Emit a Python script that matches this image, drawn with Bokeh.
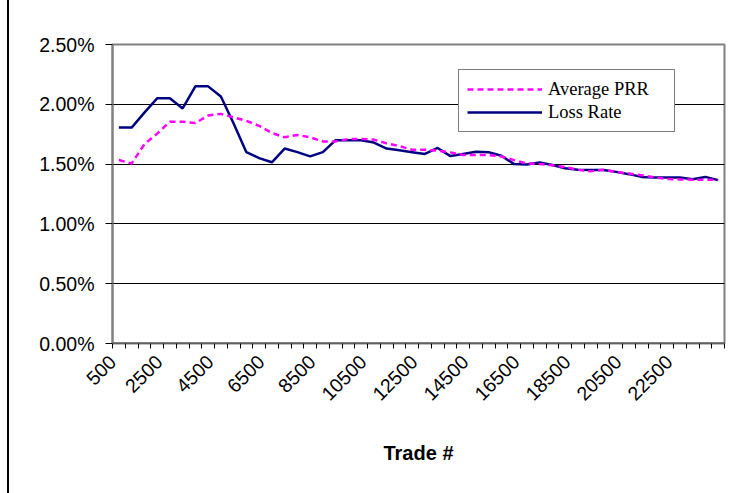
from bokeh.plotting import figure
from bokeh.models import (Range1d, FixedTicker, PrintfTickFormatter, Legend, LegendItem,
                          Span, ColumnDataSource, InlineStyleSheet)
from bokeh.embed import file_html
from bokeh.resources import INLINE
import math

trades = [500, 1000, 1500, 2000, 2500, 3000, 3500, 4000, 4500, 5000, 5500, 6000,
          6500, 7000, 7500, 8000, 8500, 9000, 9500, 10000, 10500, 11000, 11500, 12000,
          12500, 13000, 13500, 14000, 14500, 15000, 15500, 16000, 16500, 17000, 17500, 18000,
          18500, 19000, 19500, 20000, 20500, 21000, 21500, 22000, 22500, 23000, 23500, 24000]

loss_rate = [1.805, 1.805, 1.93, 2.05, 2.05, 1.965, 2.15, 2.15, 2.065, 1.84, 1.60, 1.55,
             1.515, 1.63, 1.60, 1.565, 1.60, 1.70, 1.70, 1.70, 1.68, 1.63, 1.615, 1.60,
             1.585, 1.635, 1.567, 1.585, 1.603, 1.60, 1.57, 1.50, 1.497, 1.513, 1.492, 1.465,
             1.452, 1.45, 1.45, 1.435, 1.416, 1.393, 1.388, 1.388, 1.388, 1.374, 1.393, 1.366]

avg_prr = [1.534, 1.505, 1.666, 1.755, 1.854, 1.854, 1.843, 1.906, 1.92, 1.89, 1.862, 1.82,
           1.76, 1.724, 1.744, 1.724, 1.69, 1.69, 1.71, 1.71, 1.705, 1.673, 1.651, 1.62,
           1.62, 1.612, 1.598, 1.576, 1.576, 1.576, 1.564, 1.533, 1.505, 1.50, 1.49, 1.475,
           1.452, 1.44, 1.452, 1.435, 1.421, 1.407, 1.388, 1.375, 1.372, 1.37, 1.37, 1.37]

tick_labels = ["500", "2500", "4500", "6500", "8500", "10500", "12500",
               "14500", "16500", "18500", "20500", "22500"]
y_ticks = [0.0, 0.5, 1.0, 1.5, 2.0, 2.5]

# category centres on a numeric scale (one unit per category)
xpos = [i + 0.5 for i in range(len(trades))]
src = ColumnDataSource(dict(x=xpos, loss=loss_rate, prr=avg_prr))

p = figure(width=734, height=493, output_backend="svg", toolbar_location=None,
           x_range=Range1d(0, len(trades)), y_range=Range1d(0, 2.5),
           min_border_left=112, min_border_right=10, min_border_top=44, min_border_bottom=150)
p.background_fill_color = "white"
p.border_fill_color = "white"
p.outline_line_color = "#808080"
p.outline_line_width = 2

# y axis
p.yaxis.ticker = FixedTicker(ticks=y_ticks)
p.yaxis.formatter = PrintfTickFormatter(format="%.2f%%")
p.yaxis.major_tick_out = 7
p.yaxis.major_tick_in = 0
p.yaxis.minor_tick_out = 0
p.yaxis.minor_tick_in = 0
p.yaxis.axis_line_color = "#808080"
p.yaxis.axis_line_width = 2
p.yaxis.major_tick_line_color = "#000000"
p.yaxis.major_label_text_font = "Liberation Sans"
p.yaxis.major_label_text_font_size = "19.5px"
p.yaxis.major_label_text_color = "black"
p.yaxis.major_label_standoff = 11

# x axis: rotated labels end at the category centre (Excel style),
# tick marks at the category boundaries
label_shift = 0.85
label_pos = [max(0.0, trades.index(int(t)) + 0.5 - label_shift) for t in tick_labels]
p.xaxis.ticker = FixedTicker(ticks=label_pos, minor_ticks=list(range(len(trades) + 1)))
p.xaxis.major_label_overrides = {pos: lab for pos, lab in zip(label_pos, tick_labels)}
p.xaxis.major_tick_out = 0
p.xaxis.major_tick_in = 0
p.xaxis.minor_tick_out = 5
p.xaxis.minor_tick_in = 0
p.xaxis.minor_tick_line_color = "#000000"
p.xaxis.axis_line_color = None
p.xaxis.major_label_orientation = math.pi / 4
p.xaxis.major_label_text_font = "Liberation Sans"
p.xaxis.major_label_text_font_size = "19.5px"
p.xaxis.major_label_text_color = "black"
p.xaxis.major_label_standoff = 10
p.xaxis.axis_label = "Trade #"
p.xaxis.axis_label_text_font = "Liberation Sans"
p.xaxis.axis_label_text_font_style = "bold"
p.xaxis.axis_label_text_font_size = "20px"
p.xaxis.axis_label_text_color = "black"
p.xaxis.axis_label_standoff = 32

# grid
p.xgrid.grid_line_color = None
p.ygrid.ticker = FixedTicker(ticks=y_ticks)
p.ygrid.grid_line_color = "#000000"
p.ygrid.grid_line_width = 1

r_loss = p.line("x", "loss", source=src, line_color="#000080", line_width=2.5)
r_prr = p.line("x", "prr", source=src, line_color="#FF00FF", line_width=2.5, line_dash="6 4")

# category axis line along the bottom of the plot area
p.add_layout(Span(location=0, dimension="width", line_color="#404040", line_width=2))

legend = Legend(items=[LegendItem(label="Average PRR", renderers=[r_prr]),
                       LegendItem(label="Loss Rate", renderers=[r_loss])],
                location=(346, 211))
legend.label_text_font = "Liberation Serif"
legend.label_text_font_size = "18.5px"
legend.label_text_color = "black"
legend.glyph_width = 75
legend.glyph_height = 22
legend.label_height = 22
legend.label_width = 118
legend.label_standoff = 6
legend.padding = 8
legend.spacing = 1
legend.margin = 0
legend.border_line_color = "black"
legend.border_line_width = 1
legend.background_fill_color = "white"
legend.background_fill_alpha = 1.0
p.add_layout(legend, "center")

# outer chart-area border on the left (Excel chart area frame)
p.stylesheets = [InlineStyleSheet(css=(
    ":host { position: relative; }"
    ":host::after { content: ''; position: absolute; left: 7px; top: 0px; "
    "width: 1.5px; height: 493px; background: #000000; z-index: 10; pointer-events: none; }"
))]

open("out.html", "w").write(file_html(p, INLINE))
